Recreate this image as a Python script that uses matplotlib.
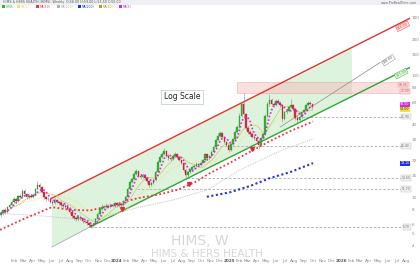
import numpy as np
import pandas as pd
import matplotlib
matplotlib.use("Agg")
import matplotlib.pyplot as plt
from matplotlib.patches import Polygon, Rectangle
from matplotlib.ticker import FixedLocator, FixedFormatter, NullLocator
import matplotlib.transforms as mtransforms

# ---------------- data (weekly candles, HIMS) ----------------
week_start = "2022-12-19"
opens = [7.1,7.4,7.8,7.6,8.3,8.6,9.2,9.6,9.3,10.2,
         10.0,11.3,10.6,10.0,10.3,10.1,10.4,11.6,12.6,12.2,
         11.0,10.0,9.7,9.6,9.2,9.0,9.5,9.2,8.9,8.7,
         8.5,8.3,8.0,7.6,7.0,6.8,6.6,6.9,6.7,6.4,
         6.3,6.1,5.9,5.8,6.0,6.6,7.3,8.0,8.4,8.3,
         8.5,8.4,8.7,8.5,8.9,8.6,8.8,8.7,9.3,10.1,
         11.8,13.4,14.2,15.6,16.4,15.0,14.6,15.4,14.3,13.5,
         12.6,13.2,13.9,16.2,19.6,21.5,22.8,24.0,22.0,21.0,
         20.5,21.8,22.8,21.5,20.4,19.2,16.8,15.2,16.0,16.8,
         17.6,18.2,18.8,18.5,19.3,20.2,22.5,21.0,21.7,23.8,
         26.0,29.5,32.0,33.5,31.5,28.5,27.0,24.5,27.5,30.0,
         34.5,38.0,47.0,58.0,48.0,37.0,34.5,33.0,31.5,31.0,
         29.0,27.0,30.5,33.0,47.0,58.0,63.0,59.0,57.0,62.0,
         60.0,57.5,44.0,50.0,51.5,55.0,57.0,53.0,45.0,43.0,
         46.0,50.0,52.0,57.0,60.0,58.0]
closes = [7.4,7.8,7.6,8.3,8.6,9.2,9.6,9.3,10.2,10.0,
          11.3,10.6,10.0,10.3,10.1,10.4,11.6,12.6,12.2,11.0,
          10.0,9.7,9.6,9.2,9.0,9.5,9.2,8.9,8.7,8.5,
          8.3,8.0,7.6,7.0,6.8,6.6,6.9,6.7,6.4,6.3,
          6.1,5.9,5.8,6.0,6.6,7.3,8.0,8.4,8.3,8.5,
          8.4,8.7,8.5,8.9,8.6,8.8,8.7,9.3,10.1,11.8,
          13.4,14.2,15.6,16.4,15.0,14.6,15.4,14.3,13.5,12.6,
          13.2,13.9,16.2,19.6,21.5,22.8,24.0,22.0,21.0,20.5,
          21.8,22.8,21.5,20.4,19.2,16.8,15.2,16.0,16.8,17.6,
          18.2,18.8,18.5,19.3,20.2,22.5,21.0,21.7,23.8,26.0,
          29.5,32.0,33.5,31.5,28.5,27.0,24.5,27.5,30.0,34.5,
          38.0,47.0,58.0,48.0,37.0,34.5,33.0,31.5,31.0,29.0,
          27.0,30.5,33.0,47.0,58.0,63.0,59.0,57.0,62.0,60.0,
          57.5,44.0,50.0,51.5,55.0,57.0,53.0,45.0,43.0,46.0,
          50.0,52.0,57.0,60.0,58.0,55.0]
highs = [7.6,8.0,8.1,8.5,8.9,9.5,10.0,9.9,10.5,10.6,
         11.8,11.6,10.8,10.6,10.7,10.8,12.0,13.5,13.0,12.4,
         11.2,10.3,10.1,9.8,9.5,9.9,9.7,9.4,9.1,8.9,
         8.8,8.5,8.2,7.8,7.2,7.0,7.1,7.1,6.9,6.6,
         6.5,6.3,6.1,6.2,6.8,7.6,8.3,8.8,8.7,8.9,
         8.8,9.0,9.0,9.2,9.1,9.1,9.0,9.5,10.4,12.2,
         13.9,14.8,16.2,17.2,16.6,15.4,15.9,15.6,14.6,13.7,
         13.6,14.4,16.8,20.3,22.3,23.6,25.5,24.4,22.6,21.6,
         22.3,23.4,23.1,21.8,20.7,19.5,17.1,16.5,17.3,18.1,
         18.7,19.4,19.2,19.8,20.8,23.2,22.9,22.4,24.6,26.9,
         30.6,33.5,35.0,34.2,32.0,29.3,27.5,28.2,30.8,35.5,
         39.5,49.0,60.0,72.5,49.5,38.5,36.0,34.2,33.0,31.8,
         30.0,31.5,34.0,48.5,60.5,70.5,65.0,61.0,64.0,64.5,
         61.5,58.0,51.5,53.0,56.5,64.0,58.5,54.0,46.5,47.5,
         51.5,53.5,58.5,62.0,61.5,59.0]
lows = [6.9,7.2,7.3,7.5,8.1,8.4,9.0,9.0,9.1,9.7,
        9.8,10.3,9.6,9.7,9.8,9.9,10.2,11.4,11.8,10.8,
        9.7,9.4,9.3,8.9,8.7,8.8,8.9,8.6,8.4,8.2,
        8.0,7.8,7.3,6.8,6.5,6.4,6.4,6.5,6.2,6.1,
        5.9,5.7,5.6,5.7,5.9,6.5,7.1,7.8,8.0,8.1,
        8.1,8.2,8.3,8.4,8.4,8.4,8.4,8.5,9.1,9.9,
        11.5,13.0,13.9,15.2,14.6,14.1,14.3,13.9,13.1,12.1,
        12.3,12.9,13.7,16.0,19.2,21.0,22.3,21.5,20.3,19.8,
        20.1,21.4,21.0,19.9,18.7,16.2,13.9,14.8,15.7,16.5,
        17.2,17.9,18.0,18.2,19.0,19.9,20.5,20.6,21.4,23.4,
        25.6,29.0,31.4,30.8,27.8,26.2,23.8,24.0,27.0,29.5,
        33.8,37.5,46.0,47.0,35.5,33.0,31.8,30.5,29.8,27.8,
        25.0,26.5,30.0,32.5,46.0,56.5,57.0,55.0,56.0,58.5,
        55.0,41.5,43.0,48.5,50.5,54.0,51.5,43.5,40.5,42.0,
        45.0,48.5,51.0,56.0,56.5,53.5]

# slower moving averages
red_ma_dates = ["2022-12-16", "2023-03-07", "2023-06-03", "2023-07-31", "2023-10-05",
                "2023-12-09", "2024-03-06", "2024-05-20", "2024-07-15", "2024-09-11",
                "2024-10-30", "2025-01-03", "2025-03-10", "2025-05-14", "2025-07-18", "2025-10-01"]
red_ma = [5.4, 6.7, 8.3, 7.9, 7.8, 8.5, 9.8, 10.6, 11.5, 13.3, 15.8, 19.2, 23.7, 29.0, 35.0, 42.0]
gray_ma_dates = ["2022-12-16", "2023-05-11", "2023-10-05", "2024-03-06", "2024-07-01",
                 "2024-10-20", "2025-02-05", "2025-06-16", "2025-10-01"]
gray_ma = [7.4, 7.0, 6.5, 8.2, 9.5, 11.5, 16.8, 24.1, 30.2]
blue_ma_dates = ["2024-10-20", "2025-01-03", "2025-03-10", "2025-05-14", "2025-07-18", "2025-10-01"]
blue_ma = [10.1, 11.0, 12.4, 14.4, 16.1, 19.1]

# drawing tools
red_channel_dates = ["2023-06-03", "2026-08-20"]
red_channel = [9.83, 303.0]
green_channel_dates = ["2023-10-05", "2026-08-13"]
green_channel = [5.7, 117.0]
ext_dates = ["2023-06-03", "2023-10-05"]
ext_values = [3.9, 5.7]
gray_channel_dates = ["2025-06-16", "2026-05-08"]
gray_channel = [37.9, 128.6]
shade_dates = ["2023-06-03", "2026-02-05", "2026-02-05", "2023-10-05", "2023-06-03"]
shade_values = [9.83, 171.0, 67.6, 5.7, 3.9]
zone_dates = ["2025-01-26", "2026-08-13"]
zone_values = [72.0, 88.0]
hlines = [45.9, 26.4, 14.4, 11.7, 5.7]
hline_start = ["2025-08-13", "2024-12-02", "2024-08-16", "2024-03-06", "2023-10-05"]
hline_end = "2026-08-13"
arrow_dates = ["2024-01-17", "2024-08-23", "2025-03-16"]
arrow_values = [8.0, 12.9, 24.8]
yticks = [4, 5, 6, 8, 10, 15, 20, 30, 40, 60, 80, 100, 150, 200, 300]
last_values = [58.5, 53.0, 19.1]

# ---------------- figure ----------------
W, H = 420, 265
fig = plt.figure(figsize=(4.2, 2.65), dpi=100)
fig.patch.set_facecolor("white")
ax = fig.add_axes([0, 7 / H, 410 / W, 248 / H])
ax.set_yscale("log")
for s in ax.spines.values():
    s.set_visible(False)

dates = pd.date_range(week_start, periods=len(closes), freq="7D")
o = np.array(opens); c = np.array(closes); hi = np.array(highs); lo = np.array(lows)
up = c >= o
green, red = "#2eb82e", "#e3263c"

# shaded channel
poly = Polygon(list(zip(matplotlib.dates.date2num(pd.to_datetime(shade_dates)), shade_values)),
               closed=True, facecolor="#c9ecc9", alpha=0.6, edgecolor="none", zorder=1)
ax.add_patch(poly)
# resistance zone
zd = matplotlib.dates.date2num(pd.to_datetime(zone_dates))
ax.add_patch(Rectangle((zd[0], zone_values[0]), zd[1] - zd[0], zone_values[1] - zone_values[0],
                       facecolor="#f6b8b8", alpha=0.45, edgecolor="#e07878", lw=0.5, zorder=1.5))

# horizontal dashed levels
for v, st in zip(hlines, hline_start):
    ax.plot(pd.to_datetime([st, hline_end]), [v, v], color="#aaaaaa", lw=0.6,
            dashes=(3, 2), zorder=2)
    ax.text(pd.to_datetime(hline_end), v, f"{v:.2f}", fontsize=2.2, color="#666666",
            ha="right", va="center", zorder=6,
            bbox=dict(boxstyle="square,pad=0.2", fc="#f2f2f2", ec="#bbbbbb", lw=0.3))

# channel lines
ax.plot(pd.to_datetime(red_channel_dates), red_channel, color="#e8322f", lw=1.0, zorder=3)
ax.plot(pd.to_datetime(green_channel_dates), green_channel, color="#2fa82f", lw=1.0, zorder=3)
ax.plot(pd.to_datetime(ext_dates), ext_values, color="#aaaaaa", lw=0.6, zorder=3)
ax.plot(pd.to_datetime(gray_channel_dates), gray_channel, color="#999999", lw=0.6, zorder=3)

# moving averages
cs = pd.Series(closes)
ax.plot(dates, cs.rolling(20, min_periods=1).mean(), color="#ece37a", lw=0.6,
        linestyle=(0, (1, 1)), zorder=3)
ax.plot(pd.to_datetime(gray_ma_dates), gray_ma, color="#c4c4c4", lw=0.7,
        linestyle=(0, (1, 1)), zorder=3)
ax.plot(pd.to_datetime(red_ma_dates), red_ma, color="#ee3344", lw=1.3,
        linestyle=(0, (1, 1.3)), zorder=3)
ax.plot(pd.to_datetime(blue_ma_dates), blue_ma, color="#2233dd", lw=1.5,
        linestyle=(0, (1, 1.2)), zorder=3)
ax.plot(dates, cs.rolling(10, min_periods=1).mean(), color="#c8c860", lw=0.5, zorder=3)

# candles
ax.vlines(dates, lo, hi, color="#8a8a8a", lw=0.4, zorder=4)
bottoms = np.minimum(o, c)
heights = np.maximum(np.abs(c - o), bottoms * 0.006)
ax.bar(dates, heights, bottom=bottoms, width=5.0, color=np.where(up, green, red),
       edgecolor=np.where(up, "#1f8a1f", "#b81c2e"), lw=0.2, zorder=5)

ax.plot(dates, cs.rolling(5, min_periods=1).mean(), color="#d62ad6", lw=1.2,
        linestyle=(0, (1, 1.2)), zorder=6)
ax.plot(pd.to_datetime(arrow_dates), arrow_values, linestyle="none", marker="v",
        ms=2.8, color=red, zorder=6)

# line labels
ax.text(pd.Timestamp("2026-07-20"), 255, "303.00", fontsize=2.4, color="#e8322f",
        rotation=27, ha="center", va="center", zorder=7,
        bbox=dict(boxstyle="square,pad=0.2", fc="#fde3e3", ec="#e8322f", lw=0.3))
ax.text(pd.Timestamp("2026-07-15"), 104, "117.00", fontsize=2.4, color="#2fa82f",
        rotation=27, ha="center", va="center", zorder=7,
        bbox=dict(boxstyle="square,pad=0.2", fc="#e3f6e3", ec="#2fa82f", lw=0.3))
ax.text(pd.Timestamp("2026-05-15"), 134, "128.60", fontsize=2.4, color="#555555",
        rotation=33, ha="left", va="center", zorder=7,
        bbox=dict(boxstyle="square,pad=0.2", fc="white", ec="#777777", lw=0.3))
ax.text(pd.Timestamp("2026-08-05"), 84.5, "88.00", fontsize=2.2, color="#d04040",
        ha="right", va="center", zorder=7,
        bbox=dict(boxstyle="square,pad=0.2", fc="#fbe0e0", ec="#e08080", lw=0.3))
ax.text(pd.Timestamp("2026-08-10"), 74.5, "72.00", fontsize=2.2, color="#d04040",
        ha="right", va="center", zorder=7,
        bbox=dict(boxstyle="square,pad=0.2", fc="#fbe0e0", ec="#e08080", lw=0.3))

# right-edge last-value boxes (inside the plot edge)
trans = mtransforms.blended_transform_factory(ax.transAxes, ax.transData)
for val, fc, tc in zip(last_values, ["#d62ad6", "#f0e040", "#2233dd"],
                       ["white", "#333333", "white"]):
    ax.text(0.999, val, f"{val:.2f}", transform=trans, fontsize=2.3, color=tc,
            ha="right", va="center", zorder=8,
            bbox=dict(boxstyle="square,pad=0.15", fc=fc, ec="none"))

# axes limits & ticks
ax.set_xlim(pd.Timestamp("2022-12-16"), pd.Timestamp("2026-08-13"))
ax.set_ylim(3.17, 347)
ax.yaxis.tick_right()
ax.yaxis.set_major_locator(FixedLocator(yticks))
ax.yaxis.set_major_formatter(FixedFormatter([str(t) for t in yticks]))
ax.yaxis.set_minor_locator(NullLocator())
ax.tick_params(axis="y", length=0, pad=1.5, labelsize=3, colors="#888888")
tick_dates = pd.date_range("2023-02-01", "2026-08-01", freq="MS")
tick_labels = [str(d.year) if d.month == 1 else d.strftime("%b") for d in tick_dates]
ax.set_xticks(tick_dates)
ax.set_xticklabels(tick_labels)
ax.xaxis.set_minor_locator(NullLocator())
ax.tick_params(axis="x", length=0, pad=1.0, labelsize=3, colors="#888888")
for lab, d in zip(ax.get_xticklabels(), tick_dates):
    if d.month == 1:
        lab.set_fontweight("bold")
        lab.set_color("#555555")

# watermark & annotation
fig.text(200 / W, 1 - 241 / H, "HIMS, W", fontsize=10, color="#d6d6d6",
         ha="center", va="center", zorder=0)
fig.text(207 / W, 1 - 254 / H, "HIMS & HERS HEALTH", fontsize=7.5, color="#d6d6d6",
         ha="center", va="center", zorder=0)
fig.text(182 / W, 1 - 97 / H, "Log Scale", fontsize=5.5, color="#222222",
         ha="center", va="center",
         bbox=dict(boxstyle="square,pad=0.35", fc="white", ec="#c3d0ea", lw=0.6))

# header
fig.patches.append(Rectangle((0, 1 - 5 / H), 1, 5 / H, transform=fig.transFigure,
                             facecolor="#eef0f3", edgecolor="none", zorder=0))
fig.text(3 / W, 1 - 2.5 / H, "HIMS & HERS HEALTH (HIMS), Weekly  O:58.00 H:59.00 L:53.50 C:55.00",
         fontsize=2.3, color="#555555", va="center")
fig.text(417 / W, 1 - 2.5 / H, "www.ProRealTime.com", fontsize=2.3, color="#666666",
         ha="right", va="center")
legend_items = [(2, green, "HIMS"), (17, "#ece37a", "MA(20)"), (36, "#ee3344", "MA(50)"),
                (57, "#b0b0b0", "MA(100)"), (78, "#2233dd", "MA(200)"),
                (99, "#b0a020", "MA(10)"), (119, "#d62ad6", "MA(5)")]
for xp, col, txt in legend_items:
    fig.patches.append(Rectangle((xp / W, 1 - 8 / H), 3 / W, 3 / H, transform=fig.transFigure,
                                 facecolor=col, edgecolor="none"))
    fig.text((xp + 4) / W, 1 - 6.5 / H, txt, fontsize=2.2, color=col, va="center")

fig.savefig("out.png", dpi=100)
